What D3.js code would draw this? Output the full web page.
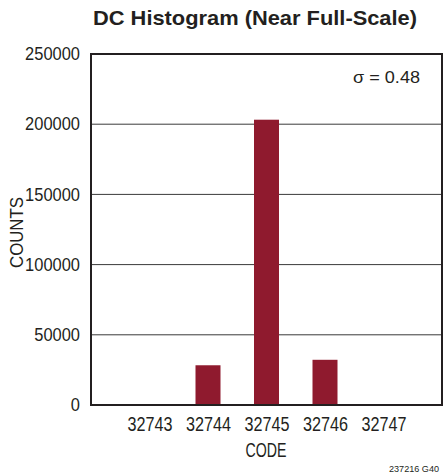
<!DOCTYPE html>
<html><head><meta charset="utf-8">
<script src="https://cdn.jsdelivr.net/npm/d3@7"></script>
<style>
body{margin:0;background:#fff;}
text{font-family:"Liberation Sans","Arial",sans-serif;fill:#231f20;}
</style></head><body>
<svg id="c" width="443" height="475"></svg>
<script>
const codes = [32743, 32744, 32745, 32746, 32747];
const counts = [0, 28300, 203200, 32200, 0];
const yTicks = [0, 50000, 100000, 150000, 200000, 250000];
const title = "DC Histogram (Near Full-Scale)";
const sigmaLabel = "σ = 0.48";
const xLabel = "CODE";
const yLabel = "COUNTS";
const footnote = "237216 G40";

const svg = d3.select("#c");
const m = {l:91, t:54, r:442, b:405};
const x = d3.scaleLinear().domain([32742, 32748]).range([m.l, m.r]);
const y = d3.scaleLinear().domain([0, 250000]).range([m.b, m.t]);

// condense a text to a given width (narrow typeface look)
function fit(sel, perChar) {
  sel.each(function(){
    const t = d3.select(this);
    t.attr("textLength", t.text().length * perChar).attr("lengthAdjust", "spacingAndGlyphs");
  });
}

// gridlines
svg.append("g").selectAll("line").data(yTicks.slice(1, -1)).join("line")
  .attr("x1", m.l).attr("x2", m.r)
  .attr("y1", d => y(d)).attr("y2", d => y(d))
  .attr("stroke", "#3a3a3a").attr("stroke-width", 1);

// bars
const bw = 25;
svg.append("g").selectAll("rect").data(codes.map((c,i)=>({c, v:counts[i]})).filter(d=>d.v>0)).join("rect")
  .attr("x", d => x(d.c) - bw/2).attr("width", bw)
  .attr("y", d => y(d.v)).attr("height", d => y(0) - y(d.v))
  .attr("fill", "#8f1a2e");

// frame
svg.append("rect").attr("x", m.l).attr("y", m.t).attr("width", m.r - m.l).attr("height", m.b - m.t)
  .attr("fill", "none").attr("stroke", "#231f20").attr("stroke-width", 2);

// y axis
const yAxis = d3.axisLeft(y).tickValues(yTicks).tickSize(0).tickPadding(11).tickFormat(d3.format("d"));
const ya = svg.append("g").attr("transform", `translate(${m.l},0)`).call(yAxis);
ya.select(".domain").remove();
ya.selectAll("text").style("font-size", "18px").attr("fill", "#231f20").call(fit, 9.15);

// x axis
const xAxis = d3.axisBottom(x).tickValues(codes).tickSize(0).tickPadding(12).tickFormat(d3.format("d"));
const xa = svg.append("g").attr("transform", `translate(0,${m.b})`).call(xAxis);
xa.select(".domain").remove();
xa.selectAll("text").style("font-size", "19.5px").attr("fill", "#231f20").call(fit, 9.0);

// labels
svg.append("text").attr("x", 255).attr("y", 25).attr("text-anchor", "middle")
  .style("font-size", "21px").style("font-weight", "bold")
  .attr("textLength", 324).attr("lengthAdjust", "spacingAndGlyphs").text(title);
svg.append("text").attr("x", 266).attr("y", 456.5).attr("text-anchor", "middle")
  .style("font-size", "20px").attr("textLength", 41).attr("lengthAdjust", "spacingAndGlyphs").text(xLabel);
svg.append("text").attr("transform", "translate(22.5,232.5) rotate(-90)").attr("text-anchor", "middle")
  .style("font-size", "19px").attr("textLength", 71).attr("lengthAdjust", "spacingAndGlyphs").text(yLabel);
svg.append("text").attr("x", 353).attr("y", 82.5).attr("text-anchor", "start")
  .style("font-size", "17px").attr("textLength", 67).attr("lengthAdjust", "spacingAndGlyphs").text(sigmaLabel);
svg.append("text").attr("x", 389).attr("y", 471.5).attr("text-anchor", "start")
  .style("font-size", "9.5px").attr("textLength", 50).attr("lengthAdjust", "spacingAndGlyphs").text(footnote);
</script></body></html>
